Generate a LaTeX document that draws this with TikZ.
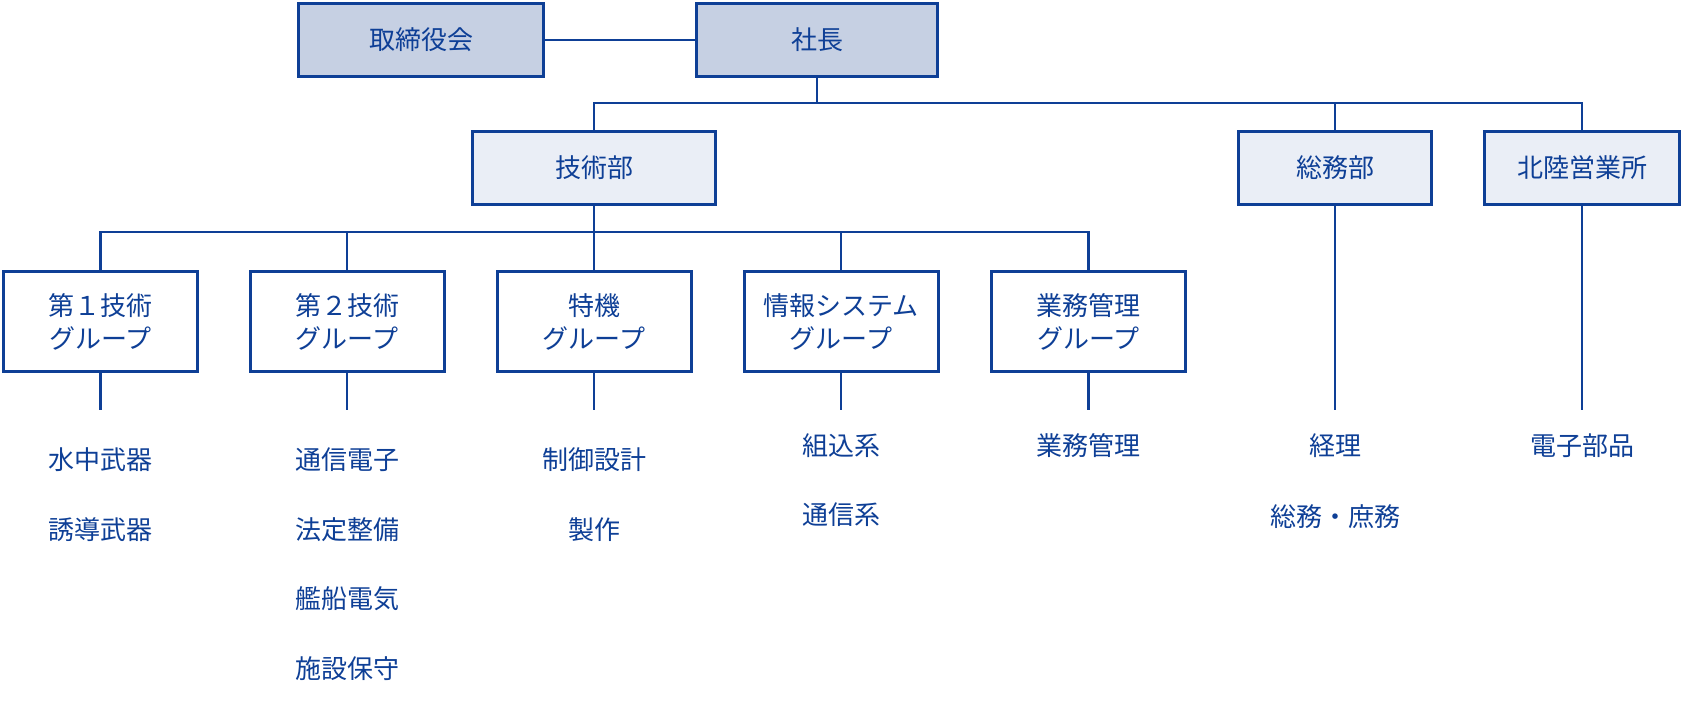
\documentclass[tikz,border=0pt]{standalone}
\usepackage{fontspec}
\setmainfont{Noto Sans CJK JP}
\definecolor{navy}{RGB}{14,63,150}
\definecolor{topfill}{RGB}{198,208,227}
\definecolor{midfill}{RGB}{234,238,246}
\begin{document}
\begin{tikzpicture}[x=1pt,y=-1pt,
  every node/.style={font=\fontsize{26}{33}\selectfont, text=navy, inner sep=0pt, align=center},
  topbox/.style={draw=navy, line width=3pt, fill=topfill, minimum height=73pt},
  midbox/.style={draw=navy, line width=3pt, fill=midfill, minimum height=73pt},
  grpbox/.style={draw=navy, line width=3pt, fill=white, minimum width=194pt, minimum height=100pt},
  link/.style={draw=navy, line width=2.5pt},
  item/.style={}]
\useasboundingbox (0,0) rectangle (1682,707);
% top level
\node[topbox, minimum width=245pt] (board) at (421,40) {取締役会};
\node[topbox, minimum width=241pt] (shacho) at (817,40) {社長};
% second level
\node[midbox, minimum width=243pt] (gijutsu) at (594,168) {技術部};
\node[midbox, minimum width=193pt] (somu) at (1335,168) {総務部};
\node[midbox, minimum width=195pt] (hokuriku) at (1582,168) {北陸営業所};
% groups
\node[grpbox] (g1) at (100.5,321.5) {第１技術\\グループ};
\node[grpbox] (g2) at (347,321.5) {第２技術\\グループ};
\node[grpbox] (g3) at (594,321.5) {特機\\グループ};
\node[grpbox] (g4) at (841,321.5) {情報システム\\グループ};
\node[grpbox] (g5) at (1088.5,321.5) {業務管理\\グループ};
% bus coordinates
\coordinate (busA) at (817,103);
\coordinate (busB) at (594,232);
\coordinate (e1) at (100.5,410);
\coordinate (e2) at (347,410);
\coordinate (e3) at (594,410);
\coordinate (e4) at (841,410);
\coordinate (e5) at (1088.5,410);
\coordinate (e6) at (1335,410);
\coordinate (e7) at (1582,410);
% connectors
\draw[link] (board.east) -- (shacho.west);
\draw[link] (shacho.south) -- (busA);
\draw[link] (gijutsu.north) |- (busA) -| (hokuriku.north);
\draw[link] (somu.north) -- (somu.north |- busA);
\draw[link] (gijutsu.south) -- (busB);
\draw[link] (g1.north) |- (busB) -| (g5.north);
\draw[link] (g2.north) -- (g2.north |- busB);
\draw[link] (g3.north) -- (g3.north |- busB);
\draw[link] (g4.north) -- (g4.north |- busB);
\draw[link] (g1.south) -- (e1);
\draw[link] (g2.south) -- (e2);
\draw[link] (g3.south) -- (e3);
\draw[link] (g4.south) -- (e4);
\draw[link] (g5.south) -- (e5);
\draw[link] (somu.south) -- (e6);
\draw[link] (hokuriku.south) -- (e7);
% items
\node[item] (i11) at (100.5,460) {水中武器};
\node[item] (i12) at (100.5,530) {誘導武器};
\node[item] (i21) at (347,460) {通信電子};
\node[item] (i22) at (347,530) {法定整備};
\node[item] (i23) at (347,599) {艦船電気};
\node[item] (i24) at (347,669) {施設保守};
\node[item] (i31) at (594,460) {制御設計};
\node[item] (i32) at (594,530) {製作};
\node[item] (i41) at (841,446) {組込系};
\node[item] (i42) at (841,515) {通信系};
\node[item] (i51) at (1088.5,446) {業務管理};
\node[item] (i61) at (1335,446) {経理};
\node[item] (i62) at (1335,517) {総務・庶務};
\node[item] (i71) at (1582,446) {電子部品};
\end{tikzpicture}
\end{document}
